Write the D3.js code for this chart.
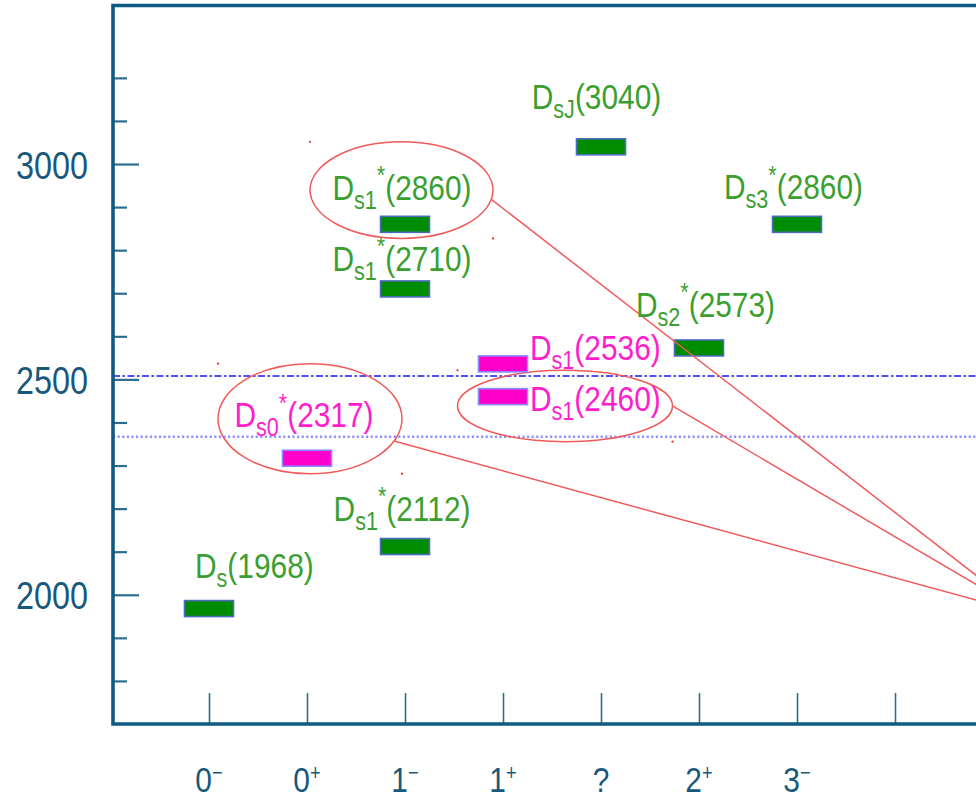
<!DOCTYPE html>
<html>
<head>
<meta charset="utf-8">
<script src="https://cdn.jsdelivr.net/npm/d3@7"></script>
<style>
  html, body { margin: 0; padding: 0; background: #fff; }
  svg { display: block; }
  text { font-family: "Liberation Sans", Arial, sans-serif; }
</style>
</head>
<body>
<svg id="chart" width="976" height="800"></svg>
<script>
// J^P columns along the bottom axis (the last column is left empty)
const jpCategories = ["0-", "0+", "1-", "1+", "?", "2+", "3-", ""];

// Charm-strange states: subscript, starred (excited) flag, mass in MeV, J^P column, group
const stateSub  = ["s", "s1", "s0", "s1", "s1", "s2", "s1", "s1", "sJ", "s3"];
const stateStar = [false, true, true, false, false, true, true, true, false, true];
const stateMass = [1968, 2112, 2317, 2460, 2536, 2573, 2710, 2860, 3040, 2860];
const stateJP   = ["0-", "1-", "0+", "1+", "1+", "2+", "1-", "1-", "?", "3-"];
const stateKind = ["cs", "cs", "exotic", "exotic", "exotic", "cs", "cs", "cs", "cs", "cs"];

// Mass axis ticks (MeV)
const majorMassTicks = [2000, 2500, 3000];
const minorMassTicks = [1800, 1900, 2100, 2200, 2300, 2400, 2600, 2700, 2800, 2900, 3100, 3200];

// Two-meson thresholds (MeV): D K (dotted) and D* K (dash-dot)
const thresholds = [2367, 2508];

// States singled out with an ellipse, pointing off to the right
const highlighted = [7, 2, 3];

const W = 976, H = 800;
const frame = { left: 113, top: 5.5, bottom: 724 };
const NARROW = 0.83;   // condensed look for all text
const colors = {
  axis: "#0f5a82",
  tick: "#2c6e8e",
  axisText: "#18587c",
  csText: "#3a9f30",
  csFill: "#008c00",
  csStroke: "#4d6cc0",
  exText: "#ff1ecb",
  exFill: "#ff00cc",
  exStroke: "#8a8aff",
  callout: "#f05a5a",
  dkStar: "#4f4fff",
  dk: "#9090ff"
};

const svg = d3.select("#chart");

const x = d3.scalePoint().domain(jpCategories).range([209, 895]);
const y = d3.scaleLinear().domain([1700, 3368]).range([frame.bottom, frame.top]);

// text placed at (px, py) and squeezed horizontally around that point
function narrowText(parent, px, py) {
  return parent.append("g")
    .attr("transform", `translate(${px},${py}) scale(${NARROW},1)`)
    .append("text");
}

// ---- axes -------------------------------------------------------------
const yMajor = svg.append("g").attr("transform", `translate(${frame.left},0)`)
  .call(d3.axisLeft(y).tickValues(majorMassTicks).tickSize(-26).tickFormat(d3.format("d")));
yMajor.select(".domain").remove();
yMajor.selectAll(".tick line").attr("stroke", colors.tick).attr("stroke-width", 2.2);
yMajor.selectAll(".tick text")
  .attr("x", -25 / NARROW)
  .attr("transform", `scale(${NARROW},1)`)
  .attr("fill", colors.axisText).attr("font-size", 39).attr("dy", "0.36em")
  .style("font-family", '"Liberation Sans", Arial, sans-serif');

const yMinor = svg.append("g").attr("transform", `translate(${frame.left},0)`)
  .call(d3.axisLeft(y).tickValues(minorMassTicks).tickSize(-14).tickFormat(""));
yMinor.select(".domain").remove();
yMinor.selectAll(".tick line").attr("stroke", colors.tick).attr("stroke-width", 2.2);

const xAxis = svg.append("g").attr("transform", `translate(0,${frame.bottom})`)
  .call(d3.axisBottom(x).tickSize(-31).tickFormat(""));
xAxis.select(".domain").remove();
xAxis.selectAll(".tick line").attr("stroke", colors.tick).attr("stroke-width", 1.6);

// J^P labels: spin digit with a small raised parity sign
const jpG = svg.append("g");
jpCategories.filter(d => d !== "").forEach(d => {
  const t = narrowText(jpG, x(d), 792)
    .attr("text-anchor", "middle")
    .attr("fill", colors.axisText)
    .attr("font-size", 36);
  t.append("tspan").text(d[0]);
  if (d.length > 1) {
    t.append("tspan").attr("font-size", 22).attr("dy", -12)
      .text(d[1] === "-" ? "\u2212" : "+");
  }
});

// ---- threshold lines ----------------------------------------------------
svg.append("line")
  .attr("x1", frame.left).attr("x2", W)
  .attr("y1", y(thresholds[0])).attr("y2", y(thresholds[0]))
  .attr("stroke", colors.dk).attr("stroke-width", 2.4)
  .attr("stroke-dasharray", "2.2,2.4");
svg.append("line")
  .attr("x1", frame.left).attr("x2", W)
  .attr("y1", y(thresholds[1])).attr("y2", y(thresholds[1]))
  .attr("stroke", colors.dkStar).attr("stroke-width", 2)
  .attr("stroke-dasharray", "7,2.5,2.5,2.5");

// ---- frame --------------------------------------------------------------
svg.append("path")
  .attr("d", `M${W + 5},${frame.top}H${frame.left}V${frame.bottom}H${W + 5}`)
  .attr("fill", "none").attr("stroke", colors.axis).attr("stroke-width", 3.6);

// ---- state bars ---------------------------------------------------------
const barW = 49, barH = 16;
const states = stateMass.map((m, i) => ({
  i, mass: m, sub: stateSub[i], star: stateStar[i], jp: stateJP[i], kind: stateKind[i],
  cx: x(stateJP[i]), cy: y(m)
}));

// Label placement around each bar: anchor, offset of the baseline from the bar centre
const labelLayout = [
  { anchor: "start",  dx: -14,  dy: -31 },
  { anchor: "middle", dx: -3,   dy: -26 },
  { anchor: "middle", dx: -3,   dy: -31 },
  { anchor: "start",  dx: 27,   dy: 14 },
  { anchor: "start",  dx: 27,   dy: -4 },
  { anchor: "middle", dx: 6.5,  dy: -31 },
  { anchor: "middle", dx: -3,   dy: -18 },
  { anchor: "middle", dx: -3,   dy: -24.5 },
  { anchor: "middle", dx: -4.5, dy: -38 },
  { anchor: "middle", dx: -3.5, dy: -25 }
];

// Ellipse geometry around highlighted states, relative to the bar centre
const calloutLayout = {
  7: { dx: -3.5, dy: -34.2, rx: 91.5,  ry: 48.3, exit: 11 },
  2: { dx: 3,    dy: -39.5, rx: 92,    ry: 55,   exit: 24 },
  3: { dx: 62,   dy: 9.3,   rx: 107.5, ry: 35.7, exit: 0 }
};
const focus = [x.range()[1] + 130, y(1957)];

const calloutG = svg.append("g");
highlighted.forEach(i => {
  const s = states[i], c = calloutLayout[i];
  const ex = s.cx + c.dx, ey = s.cy + c.dy;
  calloutG.append("ellipse")
    .attr("cx", ex).attr("cy", ey).attr("rx", c.rx).attr("ry", c.ry)
    .attr("fill", "none").attr("stroke", colors.callout).attr("stroke-width", 1.5);
  // small handle marks at the bounding corners
  [[ex - c.rx, ey - c.ry], [ex + c.rx, ey + c.ry]].forEach(p => {
    calloutG.append("circle").attr("cx", p[0]).attr("cy", p[1]).attr("r", 1.1)
      .attr("fill", "#e82828");
  });
});

svg.append("g").selectAll("rect")
  .data(states)
  .join("rect")
  .attr("x", d => d.cx - barW / 2)
  .attr("y", d => d.cy - barH / 2)
  .attr("width", barW)
  .attr("height", barH)
  .attr("fill", d => d.kind === "exotic" ? colors.exFill : colors.csFill)
  .attr("stroke", d => d.kind === "exotic" ? colors.exStroke : colors.csStroke)
  .attr("stroke-width", 1.6);

// connector lines from the ellipses toward a common point off to the right
highlighted.forEach(i => {
  const s = states[i], c = calloutLayout[i];
  const a = c.exit * Math.PI / 180;
  const sx = s.cx + c.dx + c.rx * Math.cos(a);
  const sy = s.cy + c.dy + c.ry * Math.sin(a);
  svg.append("line")
    .attr("x1", sx).attr("y1", sy).attr("x2", focus[0]).attr("y2", focus[1])
    .attr("stroke", colors.callout).attr("stroke-width", 1.5);
});

// ---- state labels -------------------------------------------------------
const labelG = svg.append("g");
states.forEach(d => {
  const L = labelLayout[d.i];
  const t = narrowText(labelG, d.cx + L.dx, d.cy + L.dy)
    .attr("text-anchor", L.anchor)
    .attr("fill", d.kind === "exotic" ? colors.exText : colors.csText)
    .attr("font-size", 36);
  t.append("tspan").text("D");
  t.append("tspan").attr("font-size", 26).attr("dy", 9).text(d.sub);
  let shift = 9;
  if (d.star) {
    t.append("tspan").attr("font-size", 26).attr("dy", -24.5).text("*");
    shift = -15.5;
  }
  t.append("tspan").attr("dy", -shift).text(`(${d.mass})`);
});
</script>
</body>
</html>
